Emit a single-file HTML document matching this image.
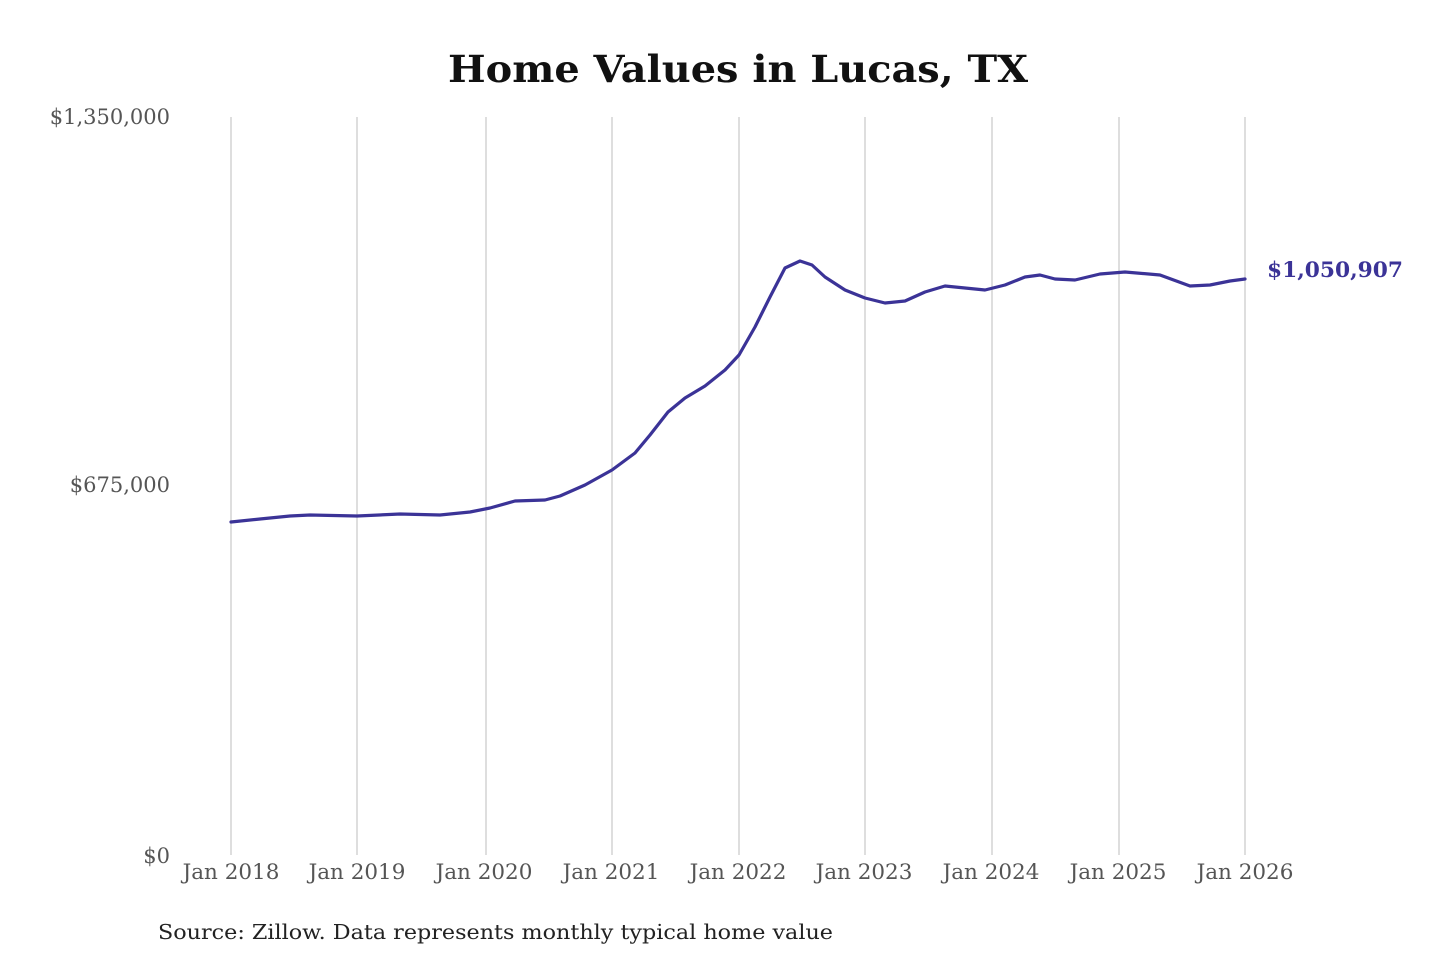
<!DOCTYPE html>
<html><head><meta charset="utf-8"><style>
html,body{margin:0;padding:0;background:#fff;}
body{width:1440px;height:960px;overflow:hidden;}
svg text{font-family:"DejaVu Serif","Liberation Serif",serif;}
</style></head><body>
<svg width="1440" height="960" viewBox="0 0 1440 960" xmlns="http://www.w3.org/2000/svg">
<text x="738" y="82" text-anchor="middle" font-size="37" font-weight="bold" fill="#111" textLength="580" lengthAdjust="spacingAndGlyphs">Home Values in Lucas, TX</text>
<g stroke="#c8c8c8" stroke-width="1.2">
<line x1="231" y1="117" x2="231" y2="855"/><line x1="357" y1="117" x2="357" y2="855"/>
<line x1="486" y1="117" x2="486" y2="855"/><line x1="612" y1="117" x2="612" y2="855"/>
<line x1="739" y1="117" x2="739" y2="855"/><line x1="865" y1="117" x2="865" y2="855"/>
<line x1="992" y1="117" x2="992" y2="855"/><line x1="1119" y1="117" x2="1119" y2="855"/>
<line x1="1245" y1="117" x2="1245" y2="855"/>
</g>
<g font-size="21" fill="#555" text-anchor="end">
<text x="170" y="124">$1,350,000</text>
<text x="170" y="492">$675,000</text>
<text x="170" y="863">$0</text>
</g>
<g font-size="21.5" fill="#555" text-anchor="middle">
<text x="231" y="879">Jan 2018</text><text x="357" y="879">Jan 2019</text>
<text x="484" y="879">Jan 2020</text><text x="611" y="879">Jan 2021</text>
<text x="738" y="879">Jan 2022</text><text x="864" y="879">Jan 2023</text>
<text x="991" y="879">Jan 2024</text><text x="1118" y="879">Jan 2025</text>
<text x="1245" y="879">Jan 2026</text>
</g>
<polyline fill="none" stroke="#3b3397" stroke-width="3.2" stroke-linejoin="round" stroke-linecap="round"
points="231,522 260,519 290,516 310,515 357,516 400,514 440,515 470,512 490,508 515,501 545,500 560,496 585,485 612,470 635,453 650,435 668,412 685,398 705,386 725,370 739,355 755,327 770,297 785,268 800,261 812,265 825,277 845,290 865,298 885,303 905,301 925,292 945,286 965,288 985,290 1005,285 1025,277 1040,275 1055,279 1075,280 1100,274 1125,272 1160,275 1190,286 1210,285 1230,281 1245,279"/>
<text x="1267" y="277" font-size="21" font-weight="bold" fill="#3b3397" textLength="136" lengthAdjust="spacingAndGlyphs">$1,050,907</text>
<text x="158" y="939" font-size="20.5" fill="#222" textLength="675" lengthAdjust="spacingAndGlyphs">Source: Zillow. Data represents monthly typical home value</text>
</svg>
</body></html>
